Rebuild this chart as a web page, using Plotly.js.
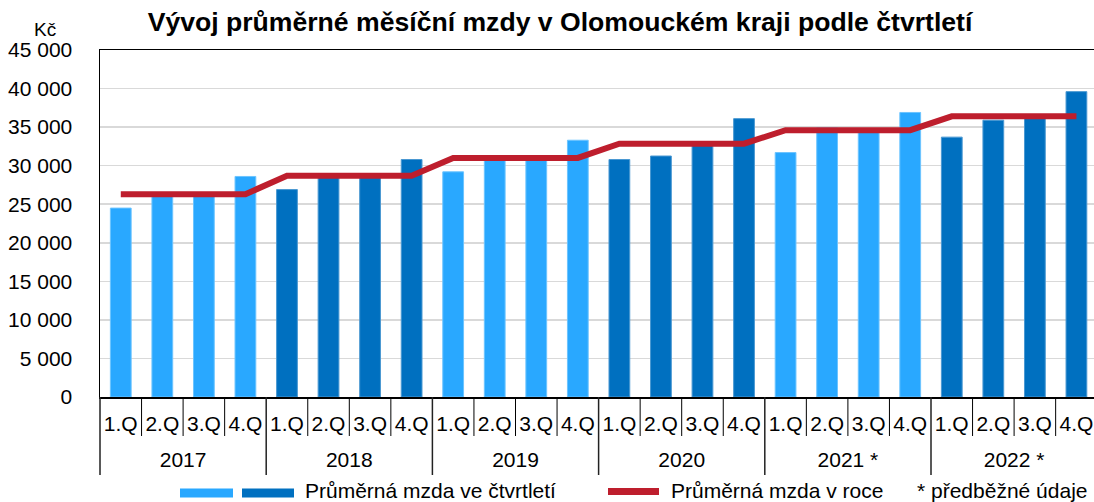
<!DOCTYPE html>
<html><head><meta charset="utf-8">
<script src="https://cdn.plot.ly/plotly-3.0.1.min.js"></script>
<style>html,body{margin:0;padding:0;background:#fff;overflow:hidden}#chart{width:1094px;height:502px}</style>
</head><body><div id="chart"></div>
<script>
// ---- data ----
const years = ['2017', '2018', '2019', '2020', '2021 *', '2022 *'];
const quarters = ['1.Q', '2.Q', '3.Q', '4.Q'];
const quarterlyWage = [
  24500, 26300, 26200, 28600,
  26900, 28900, 28700, 30800,
  29200, 30900, 31000, 33300,
  30800, 31250, 32900, 36100,
  31700, 34900, 34700, 36900,
  33700, 35900, 36300, 39600
];
const annualWage = [26300, 28700, 31000, 32850, 34600, 36400];
const titleText = 'Vývoj průměrné měsíční mzdy v Olomouckém kraji podle čtvrtletí';
const unitText = 'Kč';
const seriesQuarterName = 'Průměrná mzda ve čtvrtletí';
const seriesYearName = 'Průměrná mzda v roce';
const noteText = '* předběžné údaje';

// ---- build ----
const W = 1094, H = 502, L = 100, R = 0, T = 50, B = 105;
const plotW = W - L - R, plotH = H - T - B;
const catW = 41.55;
const xr = [-0.5, -0.5 + plotW / catW];
function px(X) { return (X - L) / plotW; }
function py(Y) { return (H - B - Y) / plotH; }

const LIGHT = '#29A8FF', DARK = '#0070C0', RED = '#BE1E2D';
const xIdx = [], qText = [], barColors = [], lineLight = [], yAnnual = [];
const yearCenters = [];
years.forEach((yr, yi) => {
  yearCenters.push(yi * quarters.length + (quarters.length - 1) / 2);
  quarters.forEach((q, qi) => {
    xIdx.push(yi * quarters.length + qi);
    qText.push(q);
    barColors.push(yi % 2 === 0 ? LIGHT : DARK);
    lineLight.push(yi % 2 === 0 ? '#6CC4FF' : '#4A98D2');
    yAnnual.push(annualWage[yi]);
  });
});

const FONT = 'Liberation Sans, Arial, sans-serif';

const traces = [
  {
    type: 'bar', x: xIdx, y: quarterlyWage, name: seriesQuarterName,
    marker: { color: barColors, line: { color: lineLight, width: 1 } },
    hoverinfo: 'skip'
  },
  {
    type: 'scatter', mode: 'lines', x: xIdx, y: yAnnual, name: seriesYearName, xaxis: 'x2',
    line: { color: RED, width: 6 }, hoverinfo: 'skip'
  }
];

// category separators below axis
const shapes = [];
for (let i = 0; i < xIdx.length; i++) {
  const xp = (i - 0.5 - xr[0]) / (xr[1] - xr[0]);
  const isYear = i % quarters.length === 0;
  shapes.push({ type: 'line', xref: 'paper', yref: 'paper', x0: xp, x1: xp, y0: py(397), y1: py(isYear ? 475 : 436),
    line: { color: isYear ? '#222' : '#000', width: isYear ? 1.5 : 1 } });
}
// legend swatches
shapes.push({ type: 'rect', xref: 'paper', yref: 'paper', x0: px(180), x1: px(233), y0: py(488.5), y1: py(497.5), fillcolor: LIGHT, line: { width: 0 } });
shapes.push({ type: 'rect', xref: 'paper', yref: 'paper', x0: px(242), x1: px(294), y0: py(488.5), y1: py(497.5), fillcolor: DARK, line: { width: 0 } });
shapes.push({ type: 'line', xref: 'paper', yref: 'paper', x0: px(608), x1: px(659), y0: py(491.5), y1: py(491.5), line: { color: RED, width: 7 } });

const annotations = [
  { xref: 'paper', yref: 'paper', x: px(45), y: py(29), text: unitText, showarrow: false, xanchor: 'center', yanchor: 'middle', font: { size: 19 } },
  { xref: 'paper', yref: 'paper', x: px(303), y: py(490), text: seriesQuarterName, showarrow: false, xanchor: 'left', yanchor: 'middle', font: { size: 21 } },
  { xref: 'paper', yref: 'paper', x: px(669), y: py(490), text: seriesYearName, showarrow: false, xanchor: 'left', yanchor: 'middle', font: { size: 21 } },
  { xref: 'paper', yref: 'paper', x: px(915), y: py(490), text: noteText, showarrow: false, xanchor: 'left', yanchor: 'middle', font: { size: 21 } }
];

const layout = {
  width: W, height: H,
  margin: { l: L, r: R, t: T, b: B, pad: 0 },
  paper_bgcolor: '#fff', plot_bgcolor: '#fff',
  font: { family: FONT, color: '#000', size: 20 },
  separators: ', ',
  showlegend: false,
  bargap: 0.5,
  title: { text: '<b>' + titleText + '</b>', x: 560 / W, xref: 'container', xanchor: 'center',
    y: 1 - 22 / H, yref: 'container', yanchor: 'middle', font: { size: 26.6, family: FONT, color: '#000' } },
  xaxis: {
    type: 'linear', range: xr, tickmode: 'array', tickvals: xIdx, ticktext: qText,
    showline: true, linecolor: '#000', linewidth: 1.5, mirror: true,
    ticks: '', showgrid: false, zeroline: false, ticklabelstandoff: 7,
    tickfont: { size: 21, family: FONT, color: '#000' }
  },
  xaxis2: {
    type: 'linear', range: xr, overlaying: 'x', anchor: 'y', side: 'bottom',
    tickmode: 'array', tickvals: yearCenters, ticktext: years,
    showline: false, ticks: '', showgrid: false, zeroline: false, ticklabelstandoff: 48,
    tickfont: { size: 21, family: FONT, color: '#000' }
  },
  yaxis: {
    range: [0, 45000], dtick: 5000, tick0: 0, tickformat: ',d', showline: true, linecolor: '#000', linewidth: 1.5,
    ticks: '', ticklabelstandoff: 22, gridcolor: '#D9D9D9', gridwidth: 1.5, zeroline: false,
    tickfont: { size: 21, family: FONT, color: '#000' }
  },
  shapes: shapes,
  annotations: annotations
};

Plotly.newPlot('chart', traces, layout, { staticPlot: true, displayModeBar: false });
</script></body></html>
